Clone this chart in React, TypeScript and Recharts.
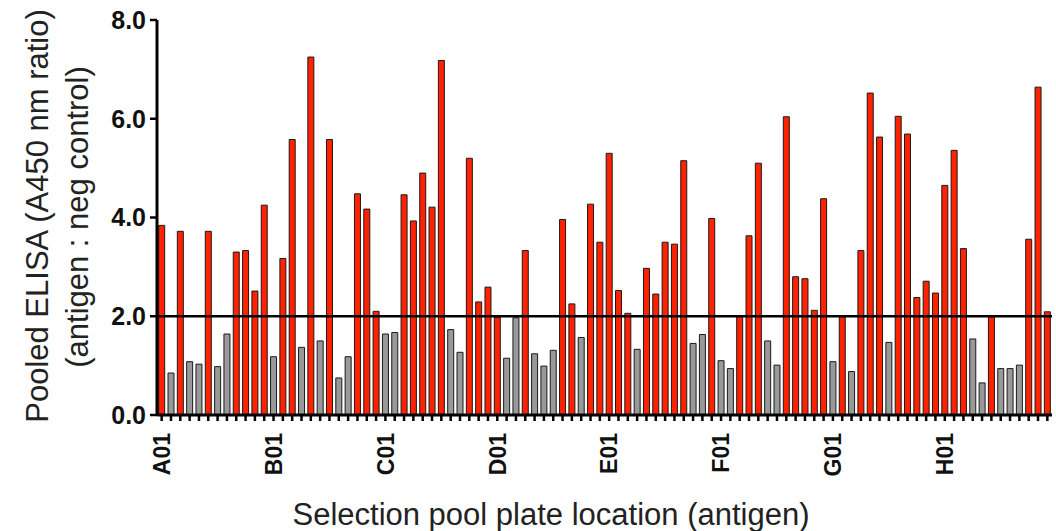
import React from 'react';
import { BarChart, Bar, XAxis, YAxis, ReferenceLine, Cell } from 'recharts';

const ROWS = ['A', 'B', 'C', 'D', 'E', 'F', 'G', 'H'];
const COLS = ['01', '02', '03', '04', '05', '06', '07', '08', '09', '10', '11', '12'];

// pooled ELISA ratio per well, A01..H12
const RATIOS = [
  3.84, 0.85, 3.72, 1.08, 1.03, 3.72, 0.98, 1.64, 3.30, 3.33, 2.51, 4.25,
  1.18, 3.17, 5.58, 1.37, 7.25, 1.50, 5.58, 0.75, 1.18, 4.48, 4.17, 2.10,
  1.64, 1.67, 4.46, 3.93, 4.90, 4.21, 7.18, 1.73, 1.27, 5.20, 2.29, 2.59,
  1.98, 1.15, 1.97, 3.33, 1.24, 0.99, 1.31, 3.96, 2.25, 1.57, 4.27, 3.50,
  5.30, 2.52, 2.06, 1.33, 2.97, 2.45, 3.50, 3.46, 5.15, 1.45, 1.63, 3.98,
  1.10, 0.94, 2.01, 3.63, 5.10, 1.50, 1.01, 6.04, 2.80, 2.76, 2.12, 4.38,
  1.08, 1.99, 0.88, 3.33, 6.52, 5.63, 1.47, 6.05, 5.69, 2.38, 2.71, 2.47,
  4.65, 5.36, 3.37, 1.54, 0.65, 1.99, 0.94, 0.94, 1.01, 3.56, 6.64, 2.09,
];

// 1 = positive hit (red), 0 = negative (gray)
const HITS = [
  1, 0, 1, 0, 0, 1, 0, 0, 1, 1, 1, 1,
  0, 1, 1, 0, 1, 0, 1, 0, 0, 1, 1, 1,
  0, 0, 1, 1, 1, 1, 1, 0, 0, 1, 1, 1,
  1, 0, 0, 1, 0, 0, 0, 1, 1, 0, 1, 1,
  1, 1, 1, 0, 1, 1, 1, 1, 1, 0, 0, 1,
  0, 0, 1, 1, 1, 0, 0, 1, 1, 1, 1, 1,
  0, 1, 0, 1, 1, 1, 0, 1, 1, 1, 1, 1,
  1, 1, 1, 0, 0, 1, 0, 0, 0, 1, 1, 1,
];

const Y_TICKS = [0, 2, 4, 6, 8];
const THRESHOLD = 2.0;

const WELLS = ROWS.flatMap((r) => COLS.map((c) => r + c));
const data = WELLS.map((well, i) => ({ well, ratio: RATIOS[i], hit: HITS[i] }));

const FONT = '"Liberation Sans", Arial, Helvetica, sans-serif';

const WellTick = (props: any) => {
  const { x, y, payload } = props;
  if (!String(payload.value).endsWith('01')) return null;
  return (
    <g transform={`translate(${x},${y})`}>
      <text
        transform="rotate(-90)"
        x={-10}
        y={0}
        dy="0.36em"
        textAnchor="end"
        fontFamily={FONT}
        fontWeight="bold"
        fontSize={23}
        fill="#111"
      >
        {payload.value}
      </text>
    </g>
  );
};

const YTitle = () => (
  <g fontFamily={FONT} fontSize={31} fill="#222">
    <text transform="translate(37,216) rotate(-90)" textAnchor="middle" dy="0.35em">
      Pooled ELISA (A450 nm ratio)
    </text>
    <text transform="translate(77,217) rotate(-90)" textAnchor="middle" dy="0.35em">
      (antigen : neg control)
    </text>
  </g>
);

const XTitle = () => (
  <text x={551} y={514} textAnchor="middle" dy="0.35em" fontFamily={FONT} fontSize={31} fill="#222">
    Selection pool plate location (antigen)
  </text>
);

export default function App() {
  return (
    <div style={{ position: 'absolute', left: 0, top: 0, background: '#fff' }}>
      <BarChart
        width={1056}
        height={531}
        data={data}
        margin={{ top: 20, right: 4, left: 0, bottom: 0 }}
        barCategoryGap="18%"
      >
        <XAxis
          dataKey="well"
          interval={0}
          height={116}
          tick={<WellTick />}
          tickSize={6}
          tickLine={{ stroke: '#000', strokeWidth: 2.5 }}
          axisLine={{ stroke: '#000', strokeWidth: 3 }}
          label={<XTitle />}
        />
        <YAxis
          width={157}
          domain={[0, 8]}
          ticks={Y_TICKS}
          tickFormatter={(v: number) => v.toFixed(1)}
          tickSize={7}
          tickMargin={4}
          tick={{ fontFamily: FONT, fontWeight: 'bold', fontSize: 25, fill: '#111' }}
          tickLine={{ stroke: '#000', strokeWidth: 2.5 }}
          axisLine={{ stroke: '#000', strokeWidth: 3 }}
          label={<YTitle />}
        />
        <Bar dataKey="ratio" isAnimationActive={false} stroke="#1a1a1a" strokeWidth={1}>
          {data.map((d, i) => (
            <Cell key={`c-${i}`} fill={d.hit ? '#ff2200' : '#999999'} />
          ))}
        </Bar>
        <ReferenceLine y={THRESHOLD} stroke="#000" strokeWidth={2.5} />
      </BarChart>
    </div>
  );
}
